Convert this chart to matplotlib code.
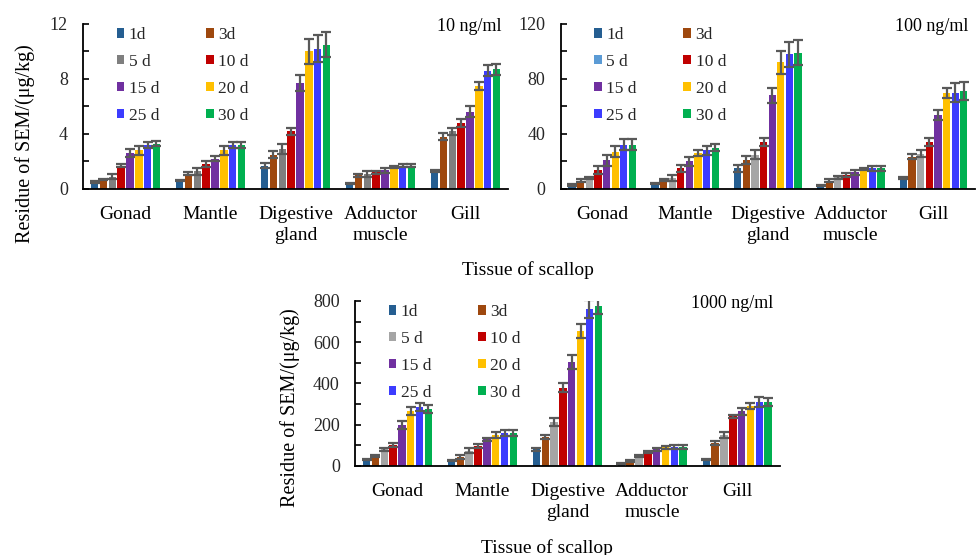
import numpy as np
import matplotlib
matplotlib.use("Agg")
import matplotlib.pyplot as plt
from matplotlib.patches import Patch

plt.rcParams["font.family"] = ["Liberation Serif", "DejaVu Serif"]

tissues = ["Gonad", "Mantle", "Digestive\ngland", "Adductor\nmuscle", "Gill"]
days = ["1d", "3d", "5 d", "10 d", "15 d", "20 d", "25 d", "30 d"]

# rows = days, columns = tissues
mean_10 = [
    [0.5, 0.6, 1.7, 0.4, 1.3],
    [0.7, 1.1, 2.5, 1.0, 3.8],
    [0.9, 1.3, 2.9, 1.1, 4.2],
    [1.7, 1.8, 4.2, 1.2, 4.8],
    [2.6, 2.2, 7.7, 1.35, 5.6],
    [2.8, 2.8, 10.0, 1.6, 7.5],
    [3.2, 3.2, 10.2, 1.7, 8.6],
    [3.3, 3.2, 10.5, 1.7, 8.7],
]
err_10 = [
    [0.05, 0.05, 0.2, 0.05, 0.1],
    [0.05, 0.1, 0.25, 0.1, 0.25],
    [0.2, 0.25, 0.35, 0.2, 0.25],
    [0.1, 0.2, 0.25, 0.1, 0.3],
    [0.3, 0.2, 0.6, 0.2, 0.4],
    [0.35, 0.3, 0.9, 0.1, 0.3],
    [0.2, 0.2, 1.0, 0.1, 0.4],
    [0.2, 0.2, 0.9, 0.1, 0.4],
]
mean_100 = [
    [3, 4, 15, 2.5, 8],
    [6, 6.5, 21, 6, 23.5],
    [8, 8, 25, 8.5, 25.5],
    [14, 15, 34, 10, 34.4],
    [21, 20, 68, 12, 54],
    [27, 26, 92, 14.5, 70],
    [32, 28, 98, 15, 70],
    [32, 30, 99, 15, 71.5],
]
err_100 = [
    [0.5, 0.5, 2.5, 0.5, 1],
    [1, 1, 3, 1, 2],
    [1, 2, 3, 1, 2.5],
    [3, 2.5, 3, 1.5, 3],
    [4, 3, 5.5, 2, 3.5],
    [4, 2, 8.5, 1, 3.5],
    [4, 3, 9, 2, 7],
    [4, 2.5, 9, 2, 6.5],
]
mean_1000 = [
    [30, 25, 80, 13, 30],
    [50, 45, 140, 25, 110],
    [80, 75, 215, 50, 150],
    [100, 95, 380, 70, 240],
    [200, 130, 505, 80, 265],
    [265, 150, 655, 90, 290],
    [285, 158, 761, 90, 310],
    [278, 160, 777, 90, 312],
]
err_1000 = [
    [3, 3, 5, 2, 3],
    [5, 10, 8, 5, 10],
    [8, 10, 20, 5, 15],
    [10, 10, 22, 5, 8],
    [20, 8, 35, 8, 18],
    [20, 15, 35, 8, 15],
    [20, 15, 45, 10, 25],
    [20, 15, 40, 10, 20],
]

base_colors = ["#255E91", "#9E480E", "#A5A5A5", "#C00000",
               "#7030A0", "#FFC000", "#3C3CFF", "#00B050"]
err_color = "#595959"
text_color = "#262626"


def panel(ax, means, errs, label, ymax, major, minor, gray5, legend5):
    x = np.arange(len(tissues))
    pitch = 0.104
    width = 0.088
    bar_cols = list(base_colors)
    bar_cols[2] = gray5
    for i in range(len(days)):
        pos = x + (i - 3.5) * pitch
        ax.bar(pos, means[i], width, color=bar_cols[i], zorder=2)
        ax.errorbar(pos, means[i], yerr=errs[i], fmt="none", ecolor=err_color,
                    elinewidth=1.6, capsize=3.8, capthick=1.6, zorder=3)
    ax.set_xlim(-0.5, len(tissues) - 0.5)
    ax.set_ylim(0, ymax)
    ax.set_yticks(np.arange(0, ymax + 1e-9, major))
    ax.set_yticks(np.arange(0, ymax + 1e-9, minor), minor=True)
    ax.set_xticks(x)
    ax.set_xticklabels(tissues, fontsize=14, color="black", linespacing=1.3)
    ax.tick_params(axis="x", length=0, pad=12)
    ax.tick_params(axis="y", which="both", direction="in", length=4, width=1.2,
                   labelsize=13, labelcolor=text_color, pad=11)
    for s in ["top", "right"]:
        ax.spines[s].set_visible(False)
    ax.spines["left"].set_linewidth(1.3)
    ax.spines["bottom"].set_linewidth(1.3)

    leg_cols = list(base_colors)
    leg_cols[2] = legend5
    handles = [Patch(facecolor=c, edgecolor="none") for c in leg_cols]
    order = [0, 2, 4, 6, 1, 3, 5, 7]
    ax.legend([handles[k] for k in order], [days[k] for k in order],
              ncol=2, loc="upper left", bbox_to_anchor=(0.042, 1.075),
              frameon=False, fontsize=12.5, handlelength=0.45,
              handleheight=0.45, handletextpad=0.25, columnspacing=2.7,
              labelspacing=0.62, labelcolor=text_color)
    ax.text(0.985, 1.035, label, transform=ax.transAxes, ha="right", va="top",
            fontsize=13, color="black")


fig = plt.figure(figsize=(9.77, 5.55), dpi=100)
ax1 = fig.add_axes([0.085, 0.6595, 0.435, 0.2973])
ax2 = fig.add_axes([0.574, 0.6595, 0.424, 0.2973])
ax3 = fig.add_axes([0.3634, 0.1604, 0.4346, 0.2973])

panel(ax1, mean_10, err_10, "10 ng/ml", 12, 4, 2, "#7F7F7F", "#7F7F7F")
panel(ax2, mean_100, err_100, "100 ng/ml", 120, 40, 20, "#A5A5A5", "#5B9BD5")
panel(ax3, mean_1000, err_1000, "1000 ng/ml", 800, 200, 100, "#A5A5A5", "#A5A5A5")

ylab = "Residue of SEM/(\u03bcg/kg)"
fig.text(25 / 977, 1 - 144 / 555, ylab, rotation=90, ha="center", va="center",
         fontsize=14.5, color="black")
fig.text(290 / 977, 1 - 408 / 555, ylab, rotation=90, ha="center", va="center",
         fontsize=14.5, color="black")
fig.text(528 / 977, 1 - 270 / 555, "Tissue of scallop", ha="center", va="center",
         fontsize=14, color="black")
fig.text(547 / 977, 1 - 548 / 555, "Tissue of scallop", ha="center", va="center",
         fontsize=14, color="black")

fig.savefig("out.png", dpi=100)
